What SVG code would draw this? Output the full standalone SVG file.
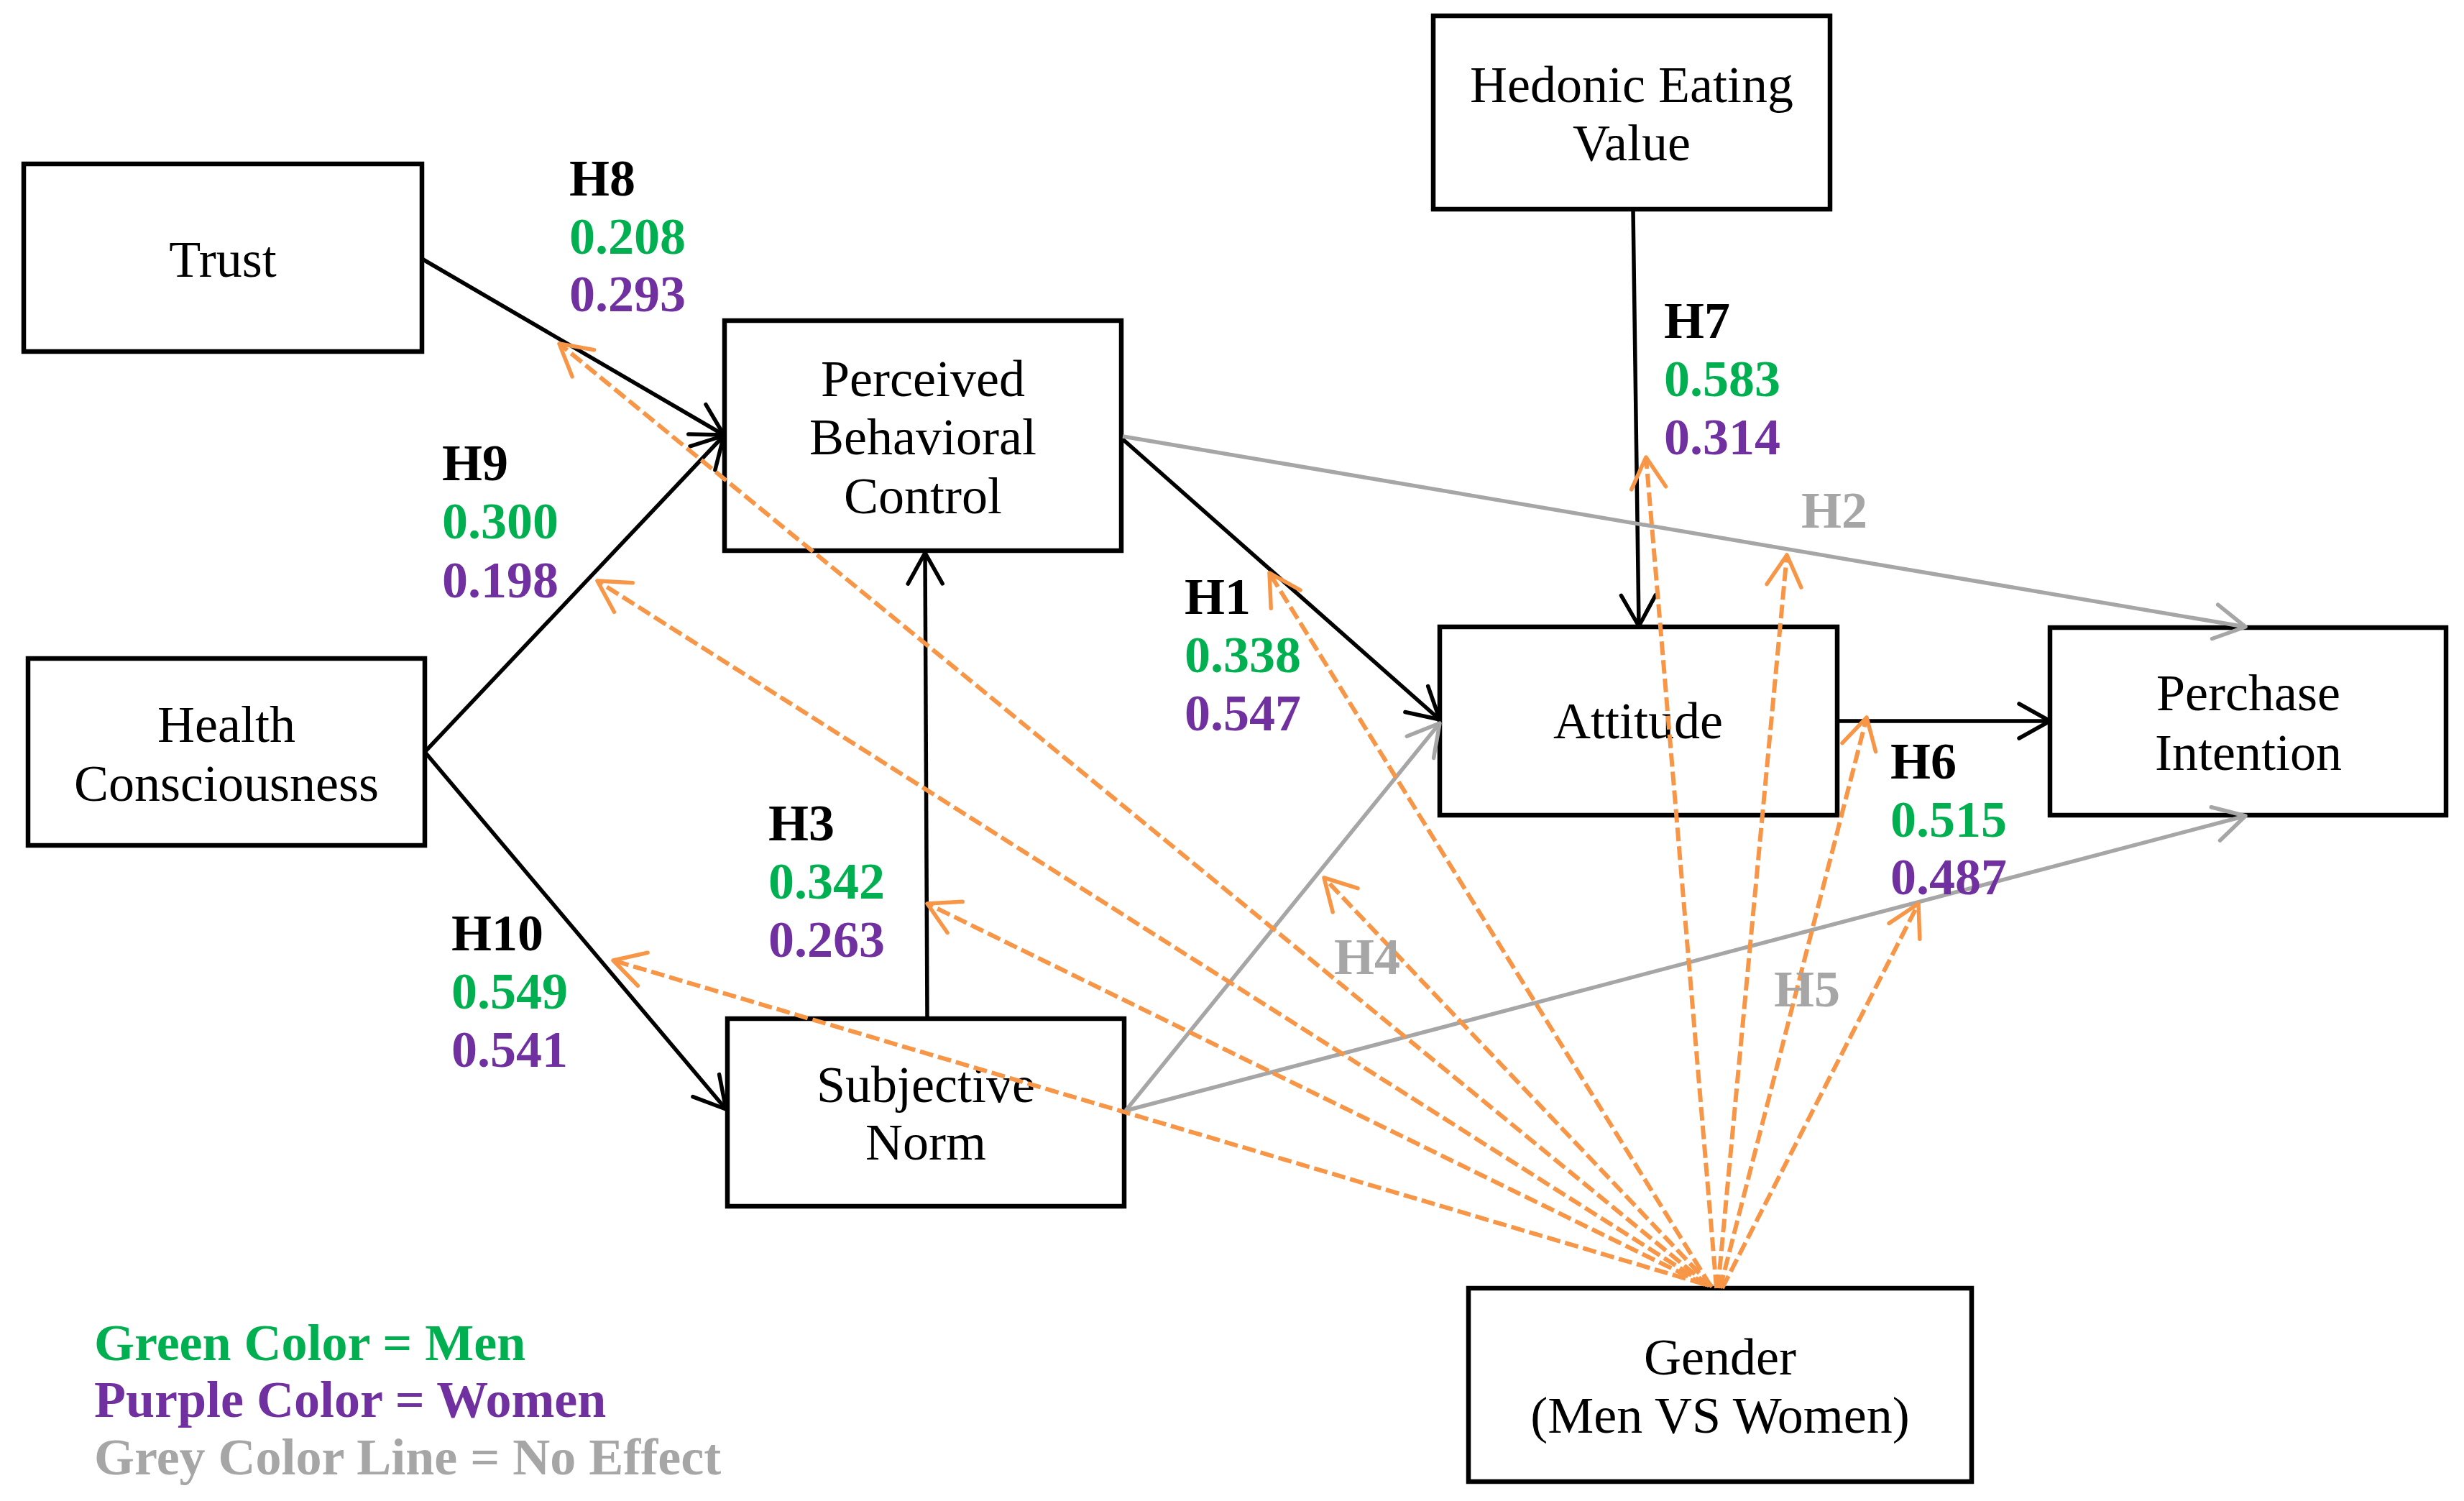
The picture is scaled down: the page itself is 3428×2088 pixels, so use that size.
<svg xmlns="http://www.w3.org/2000/svg" width="3428" height="2088" viewBox="0 0 3428 2088">
<style>
.box{fill:#fff;stroke:#000;stroke-width:6.5}
.nt{font-family:"Liberation Serif","Times New Roman",serif;font-size:72px;fill:#000;text-anchor:middle}
.lb{font-family:"Liberation Serif","Times New Roman",serif;font-size:72px;font-weight:bold}
.k{fill:#000}.g{fill:#00B050}.p{fill:#7030A0}.gr{fill:#A6A6A6}
.cb{stroke:#000;stroke-width:5.5;fill:none;marker-end:url(#ab)}
.cg{stroke:#A6A6A6;stroke-width:5.5;fill:none;marker-end:url(#ag)}
.co{stroke:#F79646;stroke-width:6;fill:none;stroke-dasharray:19 7;marker-end:url(#ao)}
</style>
<defs>
<marker id="ab" viewBox="-55 -30 60 60" markerWidth="60" markerHeight="60" refX="0" refY="0" orient="auto" markerUnits="userSpaceOnUse"><path d="M-43,-24 L0,0 L-43,24" fill="none" stroke="#000" stroke-width="5.5" stroke-linecap="round" stroke-linejoin="round"/></marker>
<marker id="ag" viewBox="-55 -30 60 60" markerWidth="60" markerHeight="60" refX="0" refY="0" orient="auto" markerUnits="userSpaceOnUse"><path d="M-43,-24 L0,0 L-43,24" fill="none" stroke="#A6A6A6" stroke-width="5.5" stroke-linecap="round" stroke-linejoin="round"/></marker>
<marker id="ao" viewBox="-55 -30 60 60" markerWidth="60" markerHeight="60" refX="0" refY="0" orient="auto" markerUnits="userSpaceOnUse"><path d="M-43,-24 L0,0 L-43,24" fill="none" stroke="#F79646" stroke-width="5.5" stroke-linecap="round" stroke-linejoin="round"/></marker>
</defs>
<rect width="3428" height="2088" fill="#fff"/>
<g id="trust"><rect class="box" x="33" y="228" width="554" height="261"/><text class="nt" x="310" y="385">Trust</text></g>
<g id="pbc"><rect class="box" x="1008" y="446" width="552" height="320"/><text class="nt" x="1284" y="551">Perceived</text><text class="nt" x="1284" y="632">Behavioral</text><text class="nt" x="1284" y="714">Control</text></g>
<g id="health"><rect class="box" x="39" y="916" width="552" height="260"/><text class="nt" x="315" y="1032">Health</text><text class="nt" x="315" y="1114">Consciousness</text></g>
<g id="sn"><rect class="box" x="1012" y="1417" width="552" height="261"/><text class="nt" x="1288" y="1533">Subjective</text><text class="nt" x="1288" y="1613">Norm</text></g>
<g id="hedonic"><rect class="box" x="1994" y="22" width="552" height="269"/><text class="nt" x="2270" y="142">Hedonic Eating</text><text class="nt" x="2270" y="223">Value</text></g>
<g id="attitude"><rect class="box" x="2003" y="872" width="553" height="262"/><text class="nt" x="2279" y="1027">Attitude</text></g>
<g id="pi"><rect class="box" x="2852" y="873" width="551" height="261"/><text class="nt" x="3128" y="988">Perchase</text><text class="nt" x="3128" y="1071">Intention</text></g>
<g id="gender"><rect class="box" x="2043" y="1792" width="700" height="269"/><text class="nt" x="2393" y="1912">Gender</text><text class="nt" x="2393" y="1993">(Men VS Women)</text></g>
<g id="connectors">
<line class="cb" x1="587" y1="360" x2="1007" y2="605"/>
<line class="cb" x1="591" y1="1046" x2="1007" y2="606"/>
<line class="cb" x1="591" y1="1046" x2="1010" y2="1543"/>
<line class="cb" x1="1290" y1="1417" x2="1287" y2="769"/>
<line class="cb" x1="1562" y1="611" x2="2003" y2="1001"/>
<line class="cb" x1="2272" y1="291" x2="2280" y2="871"/>
<line class="cb" x1="2556" y1="1003" x2="2852" y2="1003"/>
<line class="cg" x1="1562" y1="607" x2="3124" y2="872"/>
<line class="cg" x1="1566" y1="1545" x2="2003" y2="1006"/>
<line class="cg" x1="1566" y1="1545" x2="3124" y2="1135"/>
<line class="co" x1="2378" y1="1789" x2="778" y2="478"/>
<line class="co" x1="2375" y1="1788" x2="831" y2="808"/>
<line class="co" x1="2370" y1="1786" x2="853" y2="1336"/>
<line class="co" x1="2372" y1="1787" x2="1290" y2="1257"/>
<line class="co" x1="2380" y1="1789" x2="1766" y2="797"/>
<line class="co" x1="2388" y1="1792" x2="2290" y2="636"/>
<line class="co" x1="2390" y1="1792" x2="2486" y2="772"/>
<line class="co" x1="2393" y1="1792" x2="2597" y2="998"/>
<line class="co" x1="2382" y1="1790" x2="1842" y2="1221"/>
<line class="co" x1="2396" y1="1792" x2="2669" y2="1257"/>
</g>
<g id="labels">
<text class="lb k" x="792" y="272">H8</text><text class="lb g" x="792" y="353">0.208</text><text class="lb p" x="792" y="433">0.293</text>
<text class="lb k" x="615" y="668">H9</text><text class="lb g" x="615" y="749">0.300</text><text class="lb p" x="615" y="831">0.198</text>
<text class="lb k" x="1648" y="854">H1</text><text class="lb g" x="1648" y="935">0.338</text><text class="lb p" x="1648" y="1016">0.547</text>
<text class="lb k" x="2315" y="470">H7</text><text class="lb g" x="2315" y="551">0.583</text><text class="lb p" x="2315" y="632">0.314</text>
<text class="lb gr" x="2506" y="734">H2</text>
<text class="lb k" x="2630" y="1083">H6</text><text class="lb g" x="2630" y="1164">0.515</text><text class="lb p" x="2630" y="1244">0.487</text>
<text class="lb gr" x="1856" y="1355">H4</text>
<text class="lb gr" x="2468" y="1400">H5</text>
<text class="lb k" x="1069" y="1169">H3</text><text class="lb g" x="1069" y="1250">0.342</text><text class="lb p" x="1069" y="1331">0.263</text>
<text class="lb k" x="628" y="1322">H10</text><text class="lb g" x="628" y="1403">0.549</text><text class="lb p" x="628" y="1484">0.541</text>
</g>
<g id="legend">
<text class="lb g" x="131" y="1892">Green Color = Men</text>
<text class="lb p" x="131" y="1971">Purple Color = Women</text>
<text class="lb gr" x="131" y="2051">Grey Color Line = No Effect</text>
</g>
</svg>
